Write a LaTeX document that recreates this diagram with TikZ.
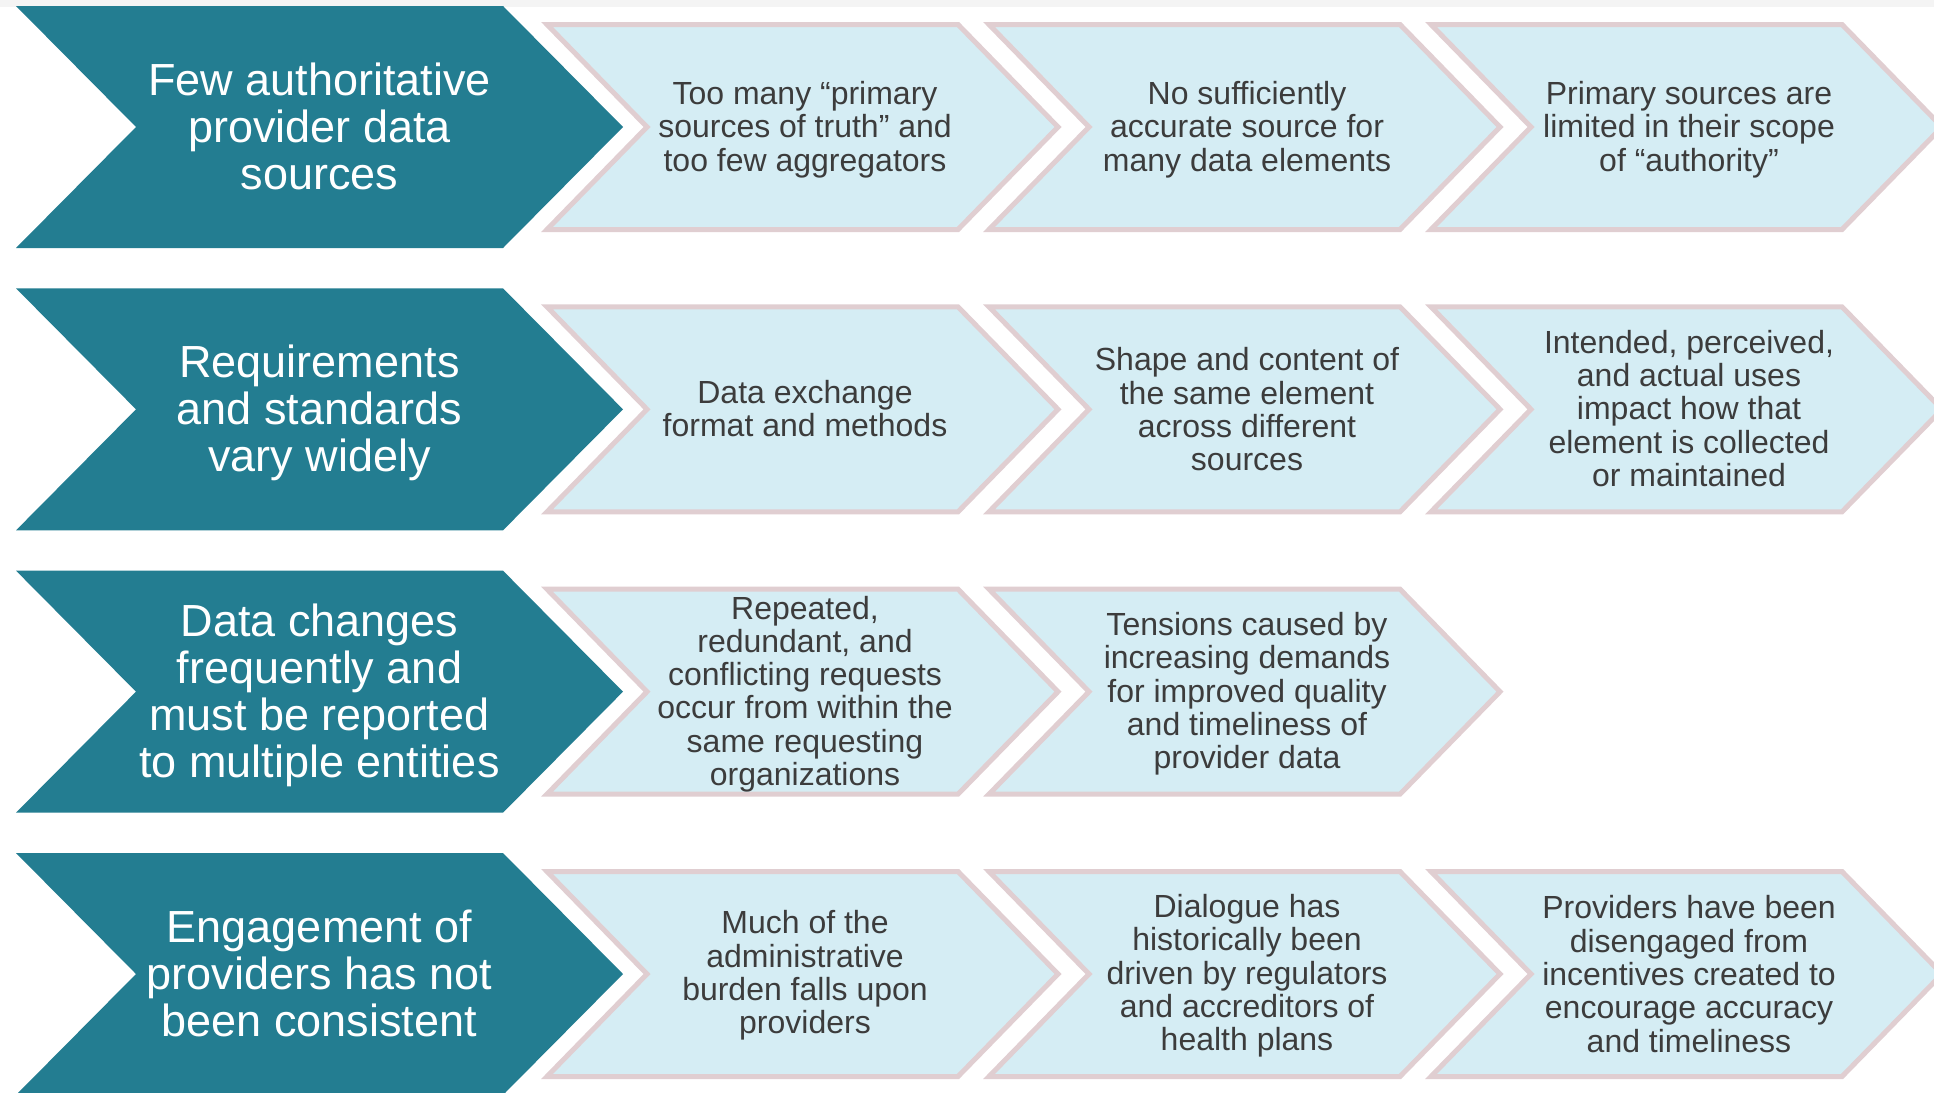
\documentclass[tikz,border=0pt]{standalone}
\usepackage{fontspec}
\setmainfont{Liberation Sans}
\definecolor{teal1}{HTML}{237D91}
\definecolor{lblue}{HTML}{D5EDF4}
\definecolor{pinkb}{HTML}{E0CED1}
\definecolor{txt}{HTML}{3C3C3C}
\definecolor{topgray}{HTML}{F4F4F4}
\begin{document}
\begin{tikzpicture}[x=1pt,y=-1pt,
  darkchev/.pic={\fill[teal1] (-303.5,-121) -- (183.5,-121) -- (303.5,0) -- (183.5,121) -- (-303.5,121) -- (-183.5,0) -- cycle;},
  lightchev/.pic={\filldraw[fill=lblue,draw=pinkb,line width=5pt] (-255.5,-102.5) -- (155.5,-102.5) -- (255.5,0) -- (155.5,102.5) -- (-255.5,102.5) -- (-155.5,0) -- cycle;},
  darktxt/.style={text=white,align=center,inner sep=0pt,font=\fontsize{45}{47}\selectfont},
  lighttxt/.style={text=txt,align=center,inner sep=0pt,xshift=2.5pt,font=\fontsize{32}{33.3}\selectfont}]
\useasboundingbox (0,0) rectangle (1934,1092);
\clip (0,0) rectangle (1934,1092);
\fill[white] (0,0) rectangle (1934,1092);
\fill[topgray] (0,0) rectangle (1934,7);
% row 1
\pic at (319.5,127) {darkchev};
\pic at (802.5,127) {lightchev};
\pic at (1244.5,127) {lightchev};
\pic at (1686.5,127) {lightchev};
\node[darktxt] (d1) at (319.5,126) {Few authoritative\\provider data\\sources};
\node[lighttxt] (c11) at (802.5,129.5) {Too many “primary\\sources of truth” and\\too few aggregators};
\node[lighttxt] (c12) at (1244.5,129.5) {No sufficiently\\accurate source for\\many data elements};
\node[lighttxt] (c13) at (1686.5,129.5) {Primary sources are\\limited in their scope\\of “authority”};
% row 2
\pic at (319.5,409.33) {darkchev};
\pic at (802.5,409.33) {lightchev};
\pic at (1244.5,409.33) {lightchev};
\pic at (1686.5,409.33) {lightchev};
\node[darktxt] (d2) at (319.5,413) {Requirements\\and standards\\vary widely};
\node[lighttxt] (c21) at (802.5,408.5) {Data exchange\\format and methods};
\node[lighttxt] (c22) at (1244.5,409.33) {Shape and content of\\the same element\\across different\\sources};
\node[lighttxt] (c23) at (1686.5,408.5) {Intended, perceived,\\and actual uses\\impact how that\\element is collected\\or maintained};
% row 3
\pic at (319.5,691.67) {darkchev};
\pic at (802.5,691.67) {lightchev};
\pic at (1244.5,691.67) {lightchev};
\node[darktxt] (d3) at (319.5,695) {Data changes\\frequently and\\must be reported\\to multiple entities};
\node[lighttxt] (c31) at (802.5,694) {Repeated,\\redundant, and\\conflicting requests\\occur from within the\\same requesting\\organizations};
\node[lighttxt] (c32) at (1244.5,694) {Tensions caused by\\increasing demands\\for improved quality\\and timeliness of\\provider data};
% row 4
\pic at (319.5,974) {darkchev};
\pic at (802.5,974) {lightchev};
\pic at (1244.5,974) {lightchev};
\pic at (1686.5,974) {lightchev};
\node[darktxt] (d4) at (319.5,973) {Engagement of\\providers has not\\been consistent};
\node[lighttxt] (c41) at (802.5,975.5) {Much of the\\administrative\\burden falls upon\\providers};
\node[lighttxt] (c42) at (1244.5,976) {Dialogue has\\historically been\\driven by regulators\\and accreditors of\\health plans};
\node[lighttxt] (c43) at (1686.5,974) {Providers have been\\disengaged from\\incentives created to\\encourage accuracy\\and timeliness};
\end{tikzpicture}
\end{document}
